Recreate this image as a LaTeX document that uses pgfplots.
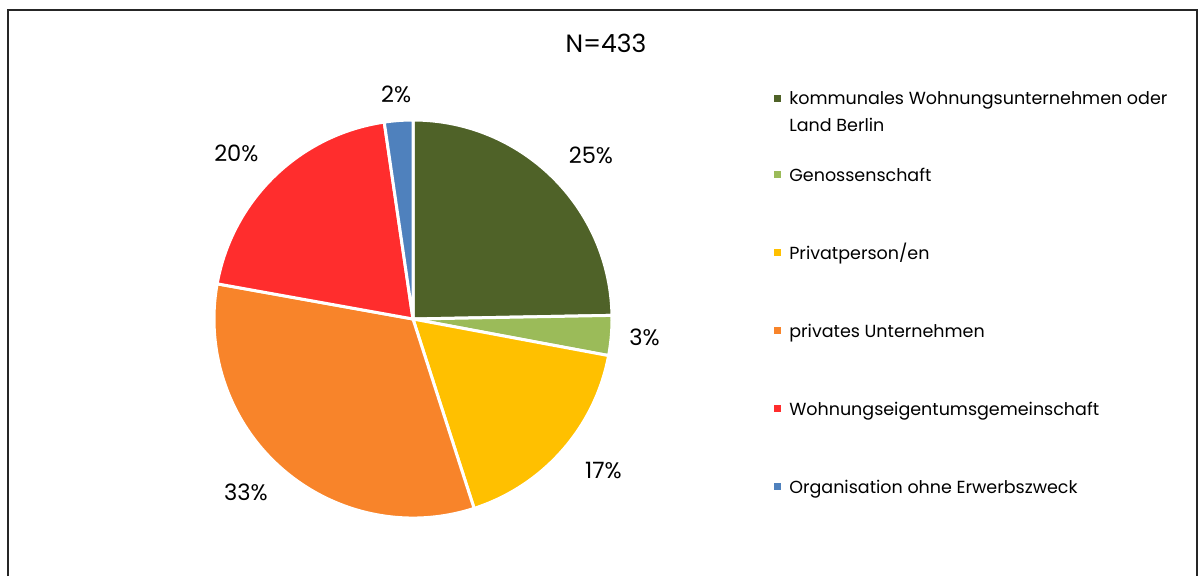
\documentclass[border=0pt]{standalone}
\usepackage{fontspec}
\setmainfont{Poppins}
\usepackage{pgfplots}
\usepackage{pgfplotstable}
\pgfplotsset{compat=1.18}

\definecolor{cKomm}{HTML}{4F6228}
\definecolor{cGeno}{HTML}{9BBB59}
\definecolor{cPriv}{HTML}{FFC000}
\definecolor{cUnt}{HTML}{F8842A}
\definecolor{cWeg}{HTML}{FF2D2D}
\definecolor{cOrg}{HTML}{4F81BD}

% counts per owner type (N=433)
\pgfplotstableread[col sep=comma]{
n,col
107,cKomm
14,cGeno
74,cPriv
142,cUnt
86,cWeg
10,cOrg
}\owners

\begin{document}
\begin{tikzpicture}
% slice angles, clockwise from 12 o'clock; label spots outside the rim
\xdef\cum{0}
\foreach \i in {0,...,5}{
  \pgfplotstablegetelem{\i}{n}\of\owners
  \edef\cnt{\pgfplotsretval}
  \pgfplotstablegetelem{\i}{col}\of\owners
  \expandafter\xdef\csname sC\i\endcsname{\pgfplotsretval}
  \pgfmathsetmacro\a{90-\cum/433*360}
  \pgfmathsetmacro\newcum{\cum+\cnt}
  \pgfmathsetmacro\b{90-\newcum/433*360}
  \pgfmathsetmacro\m{(\a+\b)/2}
  \pgfmathsetmacro\s{abs(sin(2*\m))}
  \pgfmathsetmacro\lx{413+(228+26*\s)*cos(\m)}
  \pgfmathsetmacro\ly{319-(224+6*\s)*sin(\m)}
  \pgfmathtruncatemacro\p{round(\cnt/433*100)}
  \expandafter\xdef\csname sA\i\endcsname{\a}
  \expandafter\xdef\csname sB\i\endcsname{\b}
  \expandafter\xdef\csname sX\i\endcsname{\lx}
  \expandafter\xdef\csname sY\i\endcsname{\ly}
  \expandafter\xdef\csname sP\i\endcsname{\p}
  \xdef\cum{\newcum}
}
\begin{axis}[
    x=0.6pt, y=0.6pt, y dir=reverse,
    xmin=0, xmax=1203, ymin=0, ymax=576,
    hide axis, clip=false,
    font=\fontsize{10.5}{16.2}\selectfont,
]
\path (axis cs:0,0) rectangle (axis cs:1203,576);
% frame
\draw[line width=1.2pt, black!85] (axis cs:8,576) -- (axis cs:8,9.5) -- (axis cs:1197,9.5) -- (axis cs:1197,576);
\node[font=\fontsize{15}{18}\selectfont] at (axis cs:606,43) {N=433};
% pie
\pgfplotsinvokeforeach{0,...,5}{
  \fill[\csname sC#1\endcsname, draw=white, line width=1.8pt, line join=round]
    (axis cs:413,319) -- ++(\csname sA#1\endcsname:119.4pt)
    arc[start angle=\csname sA#1\endcsname, end angle=\csname sB#1\endcsname, radius=119.4pt] -- cycle;
  \node[inner sep=1pt, font=\fontsize{13.5}{16}\selectfont]
    at (axis cs:\csname sX#1\endcsname,\csname sY#1\endcsname) {\csname sP#1\endcsname\%};
}
% legend
\fill[cKomm] (axis cs:774,95) rectangle (axis cs:781,102);
\node[anchor=base west, align=left, inner sep=0pt] at (axis cs:789,131) {kommunales Wohnungsunternehmen oder\\Land Berlin};
\fill[cGeno] (axis cs:774,171) rectangle (axis cs:781,178);
\node[anchor=base west, inner sep=0pt] at (axis cs:789,181) {Genossenschaft};
\fill[cPriv] (axis cs:774,249) rectangle (axis cs:781,256);
\node[anchor=base west, inner sep=0pt] at (axis cs:789,259) {Privatperson/en};
\fill[cUnt] (axis cs:774,327) rectangle (axis cs:781,334);
\node[anchor=base west, inner sep=0pt] at (axis cs:789,337) {privates Unternehmen};
\fill[cWeg] (axis cs:774,405) rectangle (axis cs:781,412);
\node[anchor=base west, inner sep=0pt] at (axis cs:789,415) {Wohnungseigentumsgemeinschaft};
\fill[cOrg] (axis cs:774,483) rectangle (axis cs:781,490);
\node[anchor=base west, inner sep=0pt] at (axis cs:789,493) {Organisation ohne Erwerbszweck};
\end{axis}
\end{tikzpicture}
\end{document}
